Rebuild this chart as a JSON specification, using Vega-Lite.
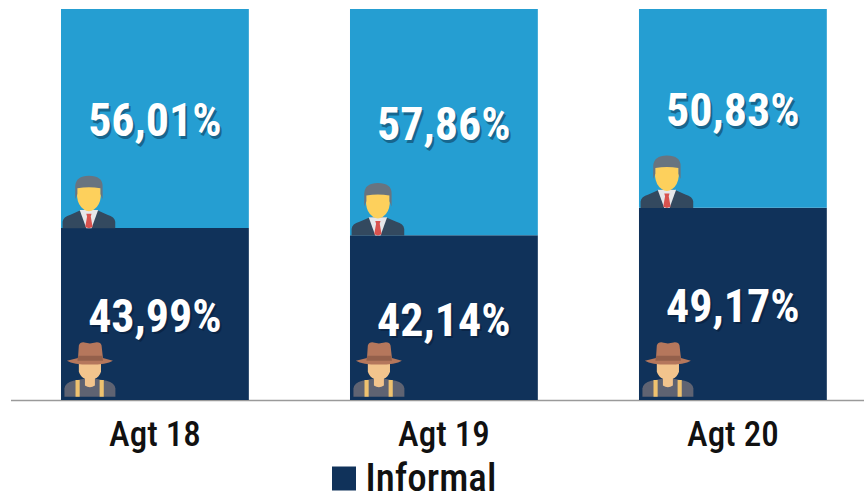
{
"$schema":"https://vega.github.io/schema/vega-lite/v6.json",
"width":853.5,"height":391,
"autosize":{"type":"none"},
"padding":{"left":10.5,"top":9,"right":0,"bottom":92},
"background":"white",
"config":{"view":{"stroke":null}},
"datasets":{
"shares":[
{"mes":"Agt 18","tipo":"Informal","orden":1,"valor":43.99,"rotulo":"43,99%"},
{"mes":"Agt 18","tipo":"Formal","orden":2,"valor":56.01,"rotulo":"56,01%"},
{"mes":"Agt 19","tipo":"Informal","orden":1,"valor":42.14,"rotulo":"42,14%"},
{"mes":"Agt 19","tipo":"Formal","orden":2,"valor":57.86,"rotulo":"57,86%"},
{"mes":"Agt 20","tipo":"Informal","orden":1,"valor":49.17,"rotulo":"49,17%"},
{"mes":"Agt 20","tipo":"Formal","orden":2,"valor":50.83,"rotulo":"50,83%"}],
"managers":[{"mes":"Agt 18","base":43.99},{"mes":"Agt 19","base":42.14},{"mes":"Agt 20","base":49.17}],
"farmers":[{"mes":"Agt 18","base":0},{"mes":"Agt 19","base":0},{"mes":"Agt 20","base":0}]
},
"encoding":{
"x":{"field":"mes","type":"nominal","sort":null,
"scale":{"paddingInner":0.35,"paddingOuter":0.1517,"align":0.576},
"axis":{"title":null,"ticks":false,"labelAngle":0,"domainColor":"#9a9a9a","domainWidth":1.5,"labelFont":"Roboto Condensed, Liberation Sans","labelFontSize":35,"labelColor":"#111111","labelPadding":17.5,"labelFontWeight":500,"grid":false}}
},
"layer":[
{"data":{"name":"shares"},
"mark":{"type":"bar"},
"encoding":{
"y":{"field":"valor","type":"quantitative","stack":"zero","scale":{"domain":[0,100],"nice":false},"axis":null},
"order":{"field":"orden"},
"color":{"field":"tipo","type":"nominal","scale":{"domain":["Informal","Formal"],"range":["#10325a","#259ed2"]},
"legend":{"values":["Informal"],"title":null,"orient":"none","legendX":314,"legendY":450,"symbolType":"square","symbolSize":576,"symbolStrokeWidth":0,"labelFont":"Roboto Condensed, Liberation Sans","labelFontSize":39,"labelFontWeight":500,"labelColor":"#111111","labelOffset":2,"labelLimit":300}}
}},
{"data":{"name":"shares"},
"transform":[{"stack":"valor","groupby":["mes"],"sort":[{"field":"orden"}],"as":["v0","v1"]},{"calculate":"(datum.v0+datum.v1)/2","as":"medio"}],
"mark":{"type":"text","font":"Roboto Condensed, Liberation Sans","fontWeight":"bold","fontSize":46,"fill":"#04142a","opacity":0.4,"dx":2,"dy":6.5},
"encoding":{"y":{"field":"medio","type":"quantitative"},"text":{"field":"rotulo"}}},
{"data":{"name":"shares"},
"transform":[{"stack":"valor","groupby":["mes"],"sort":[{"field":"orden"}],"as":["v0","v1"]},{"calculate":"(datum.v0+datum.v1)/2","as":"medio"}],
"mark":{"type":"text","font":"Roboto Condensed, Liberation Sans","fontWeight":"bold","fontSize":46,"fill":"#ffffff","dy":4},
"encoding":{"y":{"field":"medio","type":"quantitative"},"text":{"field":"rotulo"}}},
{"data":{"name":"managers"},"mark":{"type":"point","filled":true,"opacity":1,"size":2770,"xOffset":-66,"yOffset":-26,"color":"#33495f","shape":"M-1 1L-1 .75Q-.98 .55-.7 .48L-.3 .3L.3 .3L.7 .48Q.98 .55 1 .75L1 1Z"},"encoding":{"y":{"field":"base","type":"quantitative"}}},
{"data":{"name":"managers"},"mark":{"type":"point","filled":true,"opacity":1,"size":2770,"xOffset":-66,"yOffset":-26,"color":"#e6e7ea","shape":"M-.35 .3L.35 .3L.1 1L-.1 1Z"},"encoding":{"y":{"field":"base","type":"quantitative"}}},
{"data":{"name":"managers"},"mark":{"type":"point","filled":true,"opacity":1,"size":2770,"xOffset":-66,"yOffset":-26,"color":"#d9534f","shape":"M-.1 .45L.1 .45L.07 .55L.14 .95L0 1L-.14 .95L-.07 .55Z"},"encoding":{"y":{"field":"base","type":"quantitative"}}},
{"data":{"name":"managers"},"mark":{"type":"point","filled":true,"opacity":1,"size":2770,"xOffset":-66,"yOffset":-26,"color":"#fdd05c","shape":"M-.45 -.6L.45 -.6L.45 -.2Q.42 .12 .2 .28Q0 .42 -.2 .28Q-.42 .12 -.45 -.2Z"},"encoding":{"y":{"field":"base","type":"quantitative"}}},
{"data":{"name":"managers"},"mark":{"type":"point","filled":true,"opacity":1,"size":2770,"xOffset":-66,"yOffset":-26,"color":"#687480","shape":"M-.52 -.1L-.52 -.6Q-.5 -1 0 -1Q.52 -1 .52 -.6L.52 -.1L.44 -.3L.44 -.52Q0 -.6 -.44 -.52L-.44 -.3Z"},"encoding":{"y":{"field":"base","type":"quantitative"}}},
{"data":{"name":"farmers"},"mark":{"type":"point","filled":true,"opacity":1,"size":3069,"xOffset":-65,"yOffset":-31,"color":"#5f6372","shape":"M-.92 1L-.92 .7Q-.9 .5 -.6 .42L-.2 .35L.2 .35L.6 .42Q.9 .5 .92 .7L.92 1Z"},"encoding":{"y":{"field":"base","type":"quantitative"}}},
{"data":{"name":"farmers"},"mark":{"type":"point","filled":true,"opacity":1,"size":3069,"xOffset":-65,"yOffset":-31,"color":"#efc26f","shape":"M-.52 .4L-.37 .4L-.37 1L-.52 1ZM.35 .4L.5 .4L.5 1L.35 1Z"},"encoding":{"y":{"field":"base","type":"quantitative"}}},
{"data":{"name":"farmers"},"mark":{"type":"point","filled":true,"opacity":1,"size":3069,"xOffset":-65,"yOffset":-31,"color":"#f2c48d","shape":"M-.4 -.25L.4 -.25L.4 .1Q.33 .3 .18 .35L.18 .6Q0 .72 -.18 .6L-.18 .35Q-.33 .3 -.4 .1Z"},"encoding":{"y":{"field":"base","type":"quantitative"}}},
{"data":{"name":"farmers"},"mark":{"type":"point","filled":true,"opacity":1,"size":3069,"xOffset":-65,"yOffset":-31,"color":"#b5775c","shape":"M-.43 -.4L-.4 -.85Q-.35 -1 -.15 -.95L0 -.92L.15 -.95Q.38 -1 .42 -.85L.47 -.4L.83 -.3Q.6 -.16 0 -.16Q-.6 -.16 -.83 -.3Z"},"encoding":{"y":{"field":"base","type":"quantitative"}}},
{"data":{"name":"farmers"},"mark":{"type":"point","filled":true,"opacity":1,"size":3069,"xOffset":-65,"yOffset":-31,"color":"#94604b","shape":"M-.43 -.48L.45 -.48L.47 -.3L-.45 -.3Z"},"encoding":{"y":{"field":"base","type":"quantitative"}}}
]
}
